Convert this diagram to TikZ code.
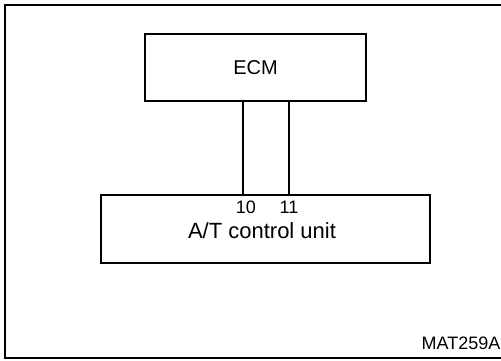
\documentclass[tikz,border=0pt]{standalone}
\usepackage{fontspec}
\setmainfont{Liberation Sans}
\usetikzlibrary{positioning, calc}

\begin{document}
\begin{tikzpicture}[
    x=1pt, y=-1pt,
    unit/.style={rectangle, draw, line width=1.5pt, inner sep=0pt, font=\fontsize{20}{24}\selectfont},
    wire/.style={line width=1.5pt},
    pinlabel/.style={inner sep=0pt, font=\fontsize{18}{20}\selectfont}
]
\useasboundingbox (0,0) rectangle (501,360);
\draw[wire] (501,5) -- (5,5) -- (5,358) -- (501,358);
\node[unit, minimum width=221pt, minimum height=67pt] (ecm) at (255.5,67.5) {ECM};
\node[unit, minimum width=329pt, minimum height=68pt] (tcu) at (265.5,229) {};
\node[inner sep=0pt, font=\fontsize{22}{24}\selectfont] (tcutext) at (262,231) {A/T control unit};
\coordinate (p10) at (243,195);
\coordinate (p11) at (289,195);
\draw[wire] (p10) -- (p10 |- ecm.south);
\draw[wire] (p11) -- (p11 |- ecm.south);
\node[pinlabel] (l10) at (246,207) {10};
\node[pinlabel] (l11) at (289,207) {11};
\node[pinlabel] (code) at (461,343) {MAT259A};
\end{tikzpicture}
\end{document}
